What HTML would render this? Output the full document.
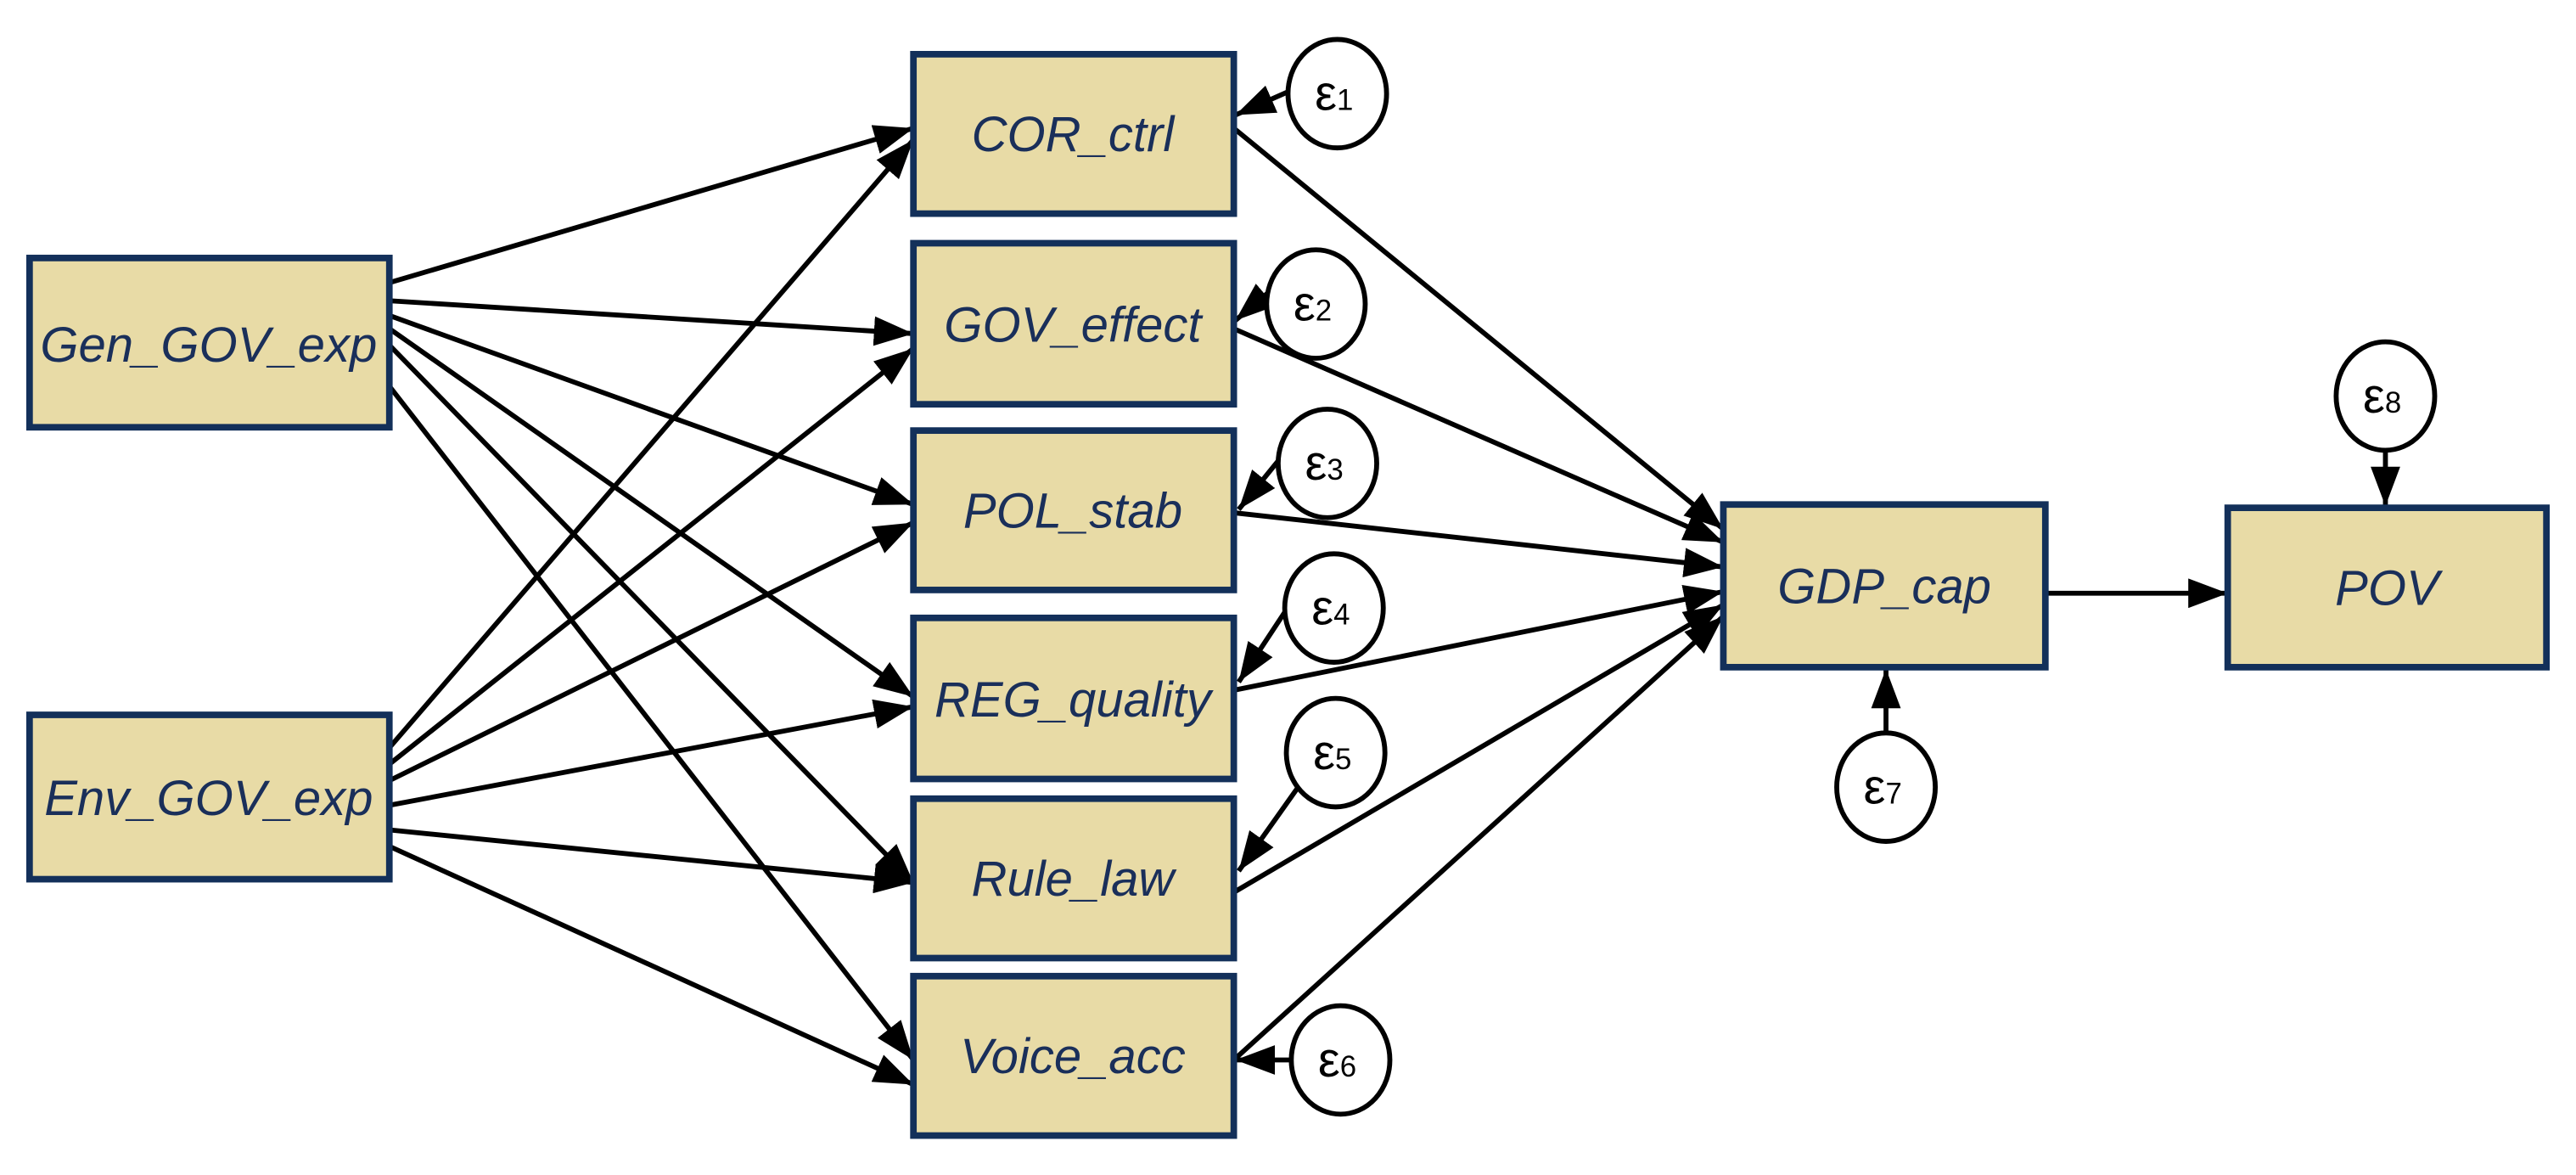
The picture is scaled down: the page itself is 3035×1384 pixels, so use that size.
<!DOCTYPE html>
<html><head><meta charset="utf-8"><style>
html,body{margin:0;padding:0;background:#fff;width:3035px;height:1384px;overflow:hidden}
svg{display:block}
.b{fill:#e8dba6;stroke:#13305a;stroke-width:4}
.t{font-family:"Liberation Sans",sans-serif;font-style:italic;font-size:30px;fill:#1a2f5a;text-anchor:middle}
.e{fill:#fff;stroke:#000;stroke-width:3}
.et{font-family:"Liberation Sans",sans-serif;font-size:30px;fill:#000;text-anchor:middle}
.et tspan{font-size:18px}
line{stroke:#000;stroke-width:3;marker-end:url(#a)}
</style></head><body>
<svg width="3035" height="1384" viewBox="0 0 1568 715" preserveAspectRatio="none" xmlns="http://www.w3.org/2000/svg">
<defs><marker id="a" markerWidth="8" markerHeight="6" refX="8" refY="3" orient="auto" markerUnits="strokeWidth"><path d="M0,0 L8,3 L0,6 z" fill="#000"/></marker></defs>
<g>
<line x1="237" y1="172" x2="556" y2="78"/>
<line x1="237" y1="183" x2="556" y2="203"/>
<line x1="237" y1="192" x2="556" y2="307"/>
<line x1="237" y1="200" x2="556" y2="424"/>
<line x1="237" y1="210" x2="556" y2="537"/>
<line x1="237" y1="235" x2="556" y2="645"/>
<line x1="237" y1="455" x2="556" y2="85"/>
<line x1="237" y1="465" x2="556" y2="212"/>
<line x1="237" y1="475" x2="556" y2="318"/>
<line x1="237" y1="490" x2="556" y2="430"/>
<line x1="237" y1="505" x2="556" y2="537"/>
<line x1="237" y1="515" x2="556" y2="660"/>
<line x1="751" y1="78" x2="1049" y2="322"/>
<line x1="751" y1="200" x2="1049" y2="330"/>
<line x1="751" y1="312" x2="1049" y2="345"/>
<line x1="751" y1="420" x2="1049" y2="360"/>
<line x1="751" y1="543" x2="1049" y2="368"/>
<line x1="751" y1="645" x2="1049" y2="375"/>
<line x1="1245" y1="361" x2="1356" y2="361"/>
<line x1="786" y1="55" x2="752" y2="70"/>
<line x1="772" y1="178" x2="752" y2="195"/>
<line x1="780" y1="278" x2="754" y2="310"/>
<line x1="785" y1="368" x2="754" y2="415"/>
<line x1="793" y1="475" x2="754" y2="530"/>
<line x1="786" y1="645" x2="752" y2="645"/>
<line x1="1148" y1="446" x2="1148" y2="407"/>
<line x1="1452" y1="275" x2="1452" y2="308"/>
</g>
<rect class="b" x="18" y="157" width="219" height="103"/><text class="t" x="127" y="220">Gen_GOV_exp</text>
<rect class="b" x="18" y="435" width="219" height="100"/><text class="t" x="127" y="496">Env_GOV_exp</text>
<rect class="b" x="556" y="33" width="195" height="97"/><text class="t" x="653" y="92">COR_ctrl</text>
<rect class="b" x="556" y="148" width="195" height="98"/><text class="t" x="653" y="208">GOV_effect</text>
<rect class="b" x="556" y="262" width="195" height="97"/><text class="t" x="653" y="321">POL_stab</text>
<rect class="b" x="556" y="376" width="195" height="98"/><text class="t" x="653" y="436">REG_quality</text>
<rect class="b" x="556" y="486" width="195" height="97"/><text class="t" x="653" y="545">Rule_law</text>
<rect class="b" x="556" y="594" width="195" height="97"/><text class="t" x="653" y="653">Voice_acc</text>
<rect class="b" x="1049" y="307" width="196" height="99"/><text class="t" x="1147" y="367">GDP_cap</text>
<rect class="b" x="1356" y="309" width="194" height="97"/><text class="t" x="1453" y="368">POV</text>
<ellipse class="e" cx="814" cy="57" rx="30" ry="33"/><text class="et" x="812" y="67">ε<tspan>1</tspan></text>
<ellipse class="e" cx="801" cy="185" rx="30" ry="33"/><text class="et" x="799" y="195">ε<tspan>2</tspan></text>
<ellipse class="e" cx="808" cy="282" rx="30" ry="33"/><text class="et" x="806" y="292">ε<tspan>3</tspan></text>
<ellipse class="e" cx="812" cy="370" rx="30" ry="33"/><text class="et" x="810" y="380">ε<tspan>4</tspan></text>
<ellipse class="e" cx="813" cy="458" rx="30" ry="33"/><text class="et" x="811" y="468">ε<tspan>5</tspan></text>
<ellipse class="e" cx="816" cy="645" rx="30" ry="33"/><text class="et" x="814" y="655">ε<tspan>6</tspan></text>
<ellipse class="e" cx="1148" cy="479" rx="30" ry="33"/><text class="et" x="1146" y="489">ε<tspan>7</tspan></text>
<ellipse class="e" cx="1452" cy="241" rx="30" ry="33"/><text class="et" x="1450" y="251">ε<tspan>8</tspan></text>
</svg>
</body></html>
